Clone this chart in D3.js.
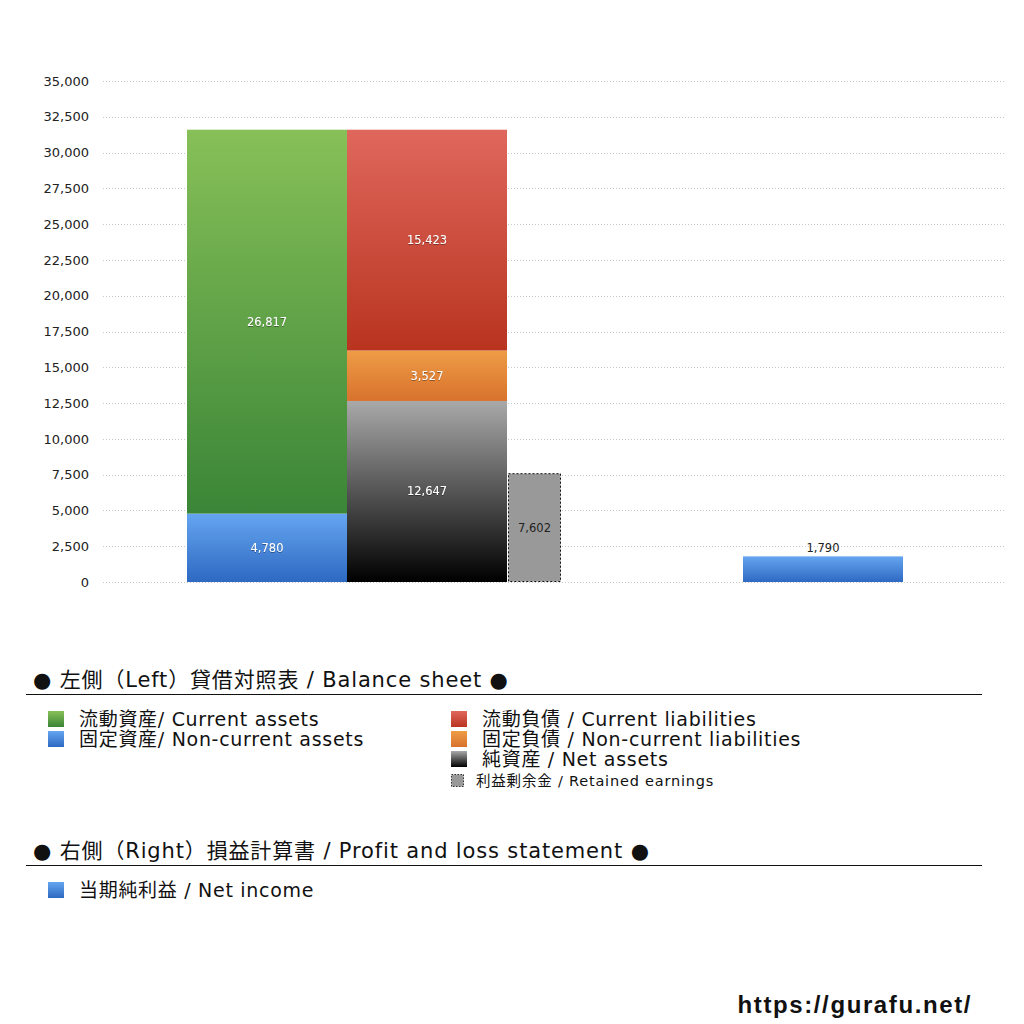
<!DOCTYPE html>
<html>
<head>
<meta charset="utf-8">
<script src="https://d3js.org/d3.v7.min.js"></script>
<style>
  body { margin: 0; background: #fff; }
  text { font-family: "DejaVu Sans", "Noto Sans CJK JP", sans-serif; }
  .grid line { stroke: #c8c8c8; stroke-dasharray: 1,2; }
</style>
</head>
<body>
<svg width="1024" height="1024"></svg>
<script>
// balance sheet, left column (bottom to top)
var assetKeys = ["fixedAssets", "currentAssets"];
var assetValues = [4780, 26817];
// liabilities + net assets, right column (bottom to top)
var liabKeys = ["netAssets", "fixedLiab", "currentLiab"];
var liabValues = [12647, 3527, 15423];
var retainedEarnings = 7602;
var netIncome = 1790;
var yTicks = [0, 2500, 5000, 7500, 10000, 12500, 15000, 17500, 20000, 22500, 25000, 27500, 30000, 32500, 35000];

var legendLeft = [
  { key: "currentAssets", text: "流動資産/ Current assets" },
  { key: "fixedAssets", text: "固定資産/ Non-current assets" }
];
var legendRight = [
  { key: "currentLiab", text: "流動負債 /  Current liabilities" },
  { key: "fixedLiab", text: "固定負債 / Non-current liabilities" },
  { key: "netAssets", text: "純資産 / Net assets" }
];

var grads = {
  currentAssets: ["#87c058", "#3a8537"],
  fixedAssets: ["#65a5f0", "#2e69c2"],
  currentLiab: ["#e0675d", "#b8341f"],
  fixedLiab: ["#ee9c46", "#d8722d"],
  netAssets: ["#a9a9a9", "#000000"]
};

var svg = d3.select("svg");
var defs = svg.append("defs");
Object.keys(grads).forEach(function(k) {
  var g = defs.append("linearGradient").attr("id", "g-" + k)
    .attr("x1", 0).attr("y1", 0).attr("x2", 0).attr("y2", 1);
  g.append("stop").attr("offset", "0%").attr("stop-color", grads[k][0]);
  g.append("stop").attr("offset", "100%").attr("stop-color", grads[k][1]);
});
var sh = defs.append("filter").attr("id", "shadow");
sh.append("feDropShadow").attr("dx", 0).attr("dy", 0.6).attr("stdDeviation", 0.6)
  .attr("flood-color", "#000").attr("flood-opacity", 0.6);

var y = d3.scaleLinear().domain([0, 35000]).range([582, 81]);
// horizontal placement in abstract column units
var x = d3.scaleLinear().domain([0, 905]).range([100, 1005]);
var fmt = d3.format(",");

// grid
svg.append("g").attr("class", "grid")
  .selectAll("line").data(yTicks).enter().append("line")
  .attr("x1", 103).attr("x2", 1005)
  .attr("y1", function(d) { return Math.round(y(d)) + 0.5; })
  .attr("y2", function(d) { return Math.round(y(d)) + 0.5; });

// axis
var axis = svg.append("g").attr("transform", "translate(89,0)")
  .call(d3.axisLeft(y).tickValues(yTicks).tickFormat(fmt).tickSize(0).tickPadding(0));
axis.select(".domain").remove();
axis.selectAll("text").attr("font-size", 13).attr("fill", "#222")
  .style("font-family", "'DejaVu Sans', sans-serif");

function drawStack(keys, values, x0, w) {
  var row = {};
  keys.forEach(function(k, i) { row[k] = values[i]; });
  var series = d3.stack().keys(keys)([row]);
  var g = svg.append("g");
  series.forEach(function(s) {
    var d = s[0];
    g.append("rect")
      .attr("x", x(x0)).attr("width", x(x0 + w) - x(x0))
      .attr("y", y(d[1])).attr("height", y(d[0]) - y(d[1]))
      .attr("fill", "url(#g-" + s.key + ")");
    g.append("text")
      .attr("x", x(x0 + w / 2)).attr("y", (y(d[0]) + y(d[1])) / 2 + 4)
      .attr("text-anchor", "middle").attr("font-size", 11.5).attr("fill", "#fff")
      .attr("filter", "url(#shadow)")
      .text(fmt(d[1] - d[0]));
  });
}

drawStack(assetKeys, assetValues, 87, 160);
drawStack(liabKeys, liabValues, 247, 160);

// retained earnings
svg.append("rect")
  .attr("x", x(408) + 0.5).attr("width", x(461) - x(408) - 1)
  .attr("y", y(retainedEarnings) + 0.5).attr("height", y(0) - y(retainedEarnings) - 1)
  .attr("fill", "#999").attr("stroke", "#111").attr("stroke-dasharray", "2,2");
svg.append("text")
  .attr("x", x(434.5)).attr("y", (y(0) + y(retainedEarnings)) / 2 + 4)
  .attr("text-anchor", "middle").attr("font-size", 11.5).attr("fill", "#222")
  .text(fmt(retainedEarnings));

// net income
svg.append("rect")
  .attr("x", x(643)).attr("width", x(803) - x(643))
  .attr("y", y(netIncome)).attr("height", y(0) - y(netIncome))
  .attr("fill", "url(#g-fixedAssets)");
svg.append("text")
  .attr("x", x(723)).attr("y", y(netIncome) - 4)
  .attr("text-anchor", "middle").attr("font-size", 11.5).attr("fill", "#222")
  .text(fmt(netIncome));

// legend section headers
function header(text, yy) {
  svg.append("text").attr("x", 33).attr("y", yy).attr("font-size", 21).attr("fill", "#111")
    .attr("letter-spacing", 0.85).text(text);
  svg.append("line").attr("x1", 26).attr("x2", 982).attr("y1", yy + 7.5).attr("y2", yy + 7.5)
    .attr("stroke", "#111").attr("stroke-width", 1);
}
header("● 左側（Left）貸借対照表 / Balance sheet ●", 687);
header("● 右側（Right）損益計算書 / Profit and loss statement ●", 858);

function legendItems(items, lx, ly) {
  items.forEach(function(d, i) {
    var yy = ly + i * 20;
    svg.append("rect").attr("x", lx).attr("y", yy - 15).attr("width", 16).attr("height", 16)
      .attr("fill", "url(#g-" + d.key + ")");
    svg.append("text").attr("x", lx + 31).attr("y", yy).attr("font-size", 19).attr("fill", "#111")
      .attr("letter-spacing", 0.7).text(d.text);
  });
}
legendItems(legendLeft, 48, 726);
legendItems(legendRight, 451, 726);
legendItems([{ key: "fixedAssets", text: "当期純利益 / Net income" }], 48, 897);

// retained earnings legend
svg.append("rect").attr("x", 451.5).attr("y", 774.5).attr("width", 12).attr("height", 12)
  .attr("fill", "#999").attr("stroke", "#333").attr("stroke-dasharray", "1.5,1.5");
svg.append("text").attr("x", 476).attr("y", 786).attr("font-size", 14.5).attr("fill", "#111")
  .attr("letter-spacing", 0.8)
  .text("利益剰余金 / Retained earnings");

svg.append("text").attr("x", 972).attr("y", 1013).attr("text-anchor", "end")
  .attr("font-size", 24).attr("font-weight", "bold").attr("fill", "#111")
  .attr("letter-spacing", 1.6)
  .style("font-family", "'Liberation Sans', Arial, sans-serif")
  .text("https://gurafu.net/");
</script>
</body>
</html>
